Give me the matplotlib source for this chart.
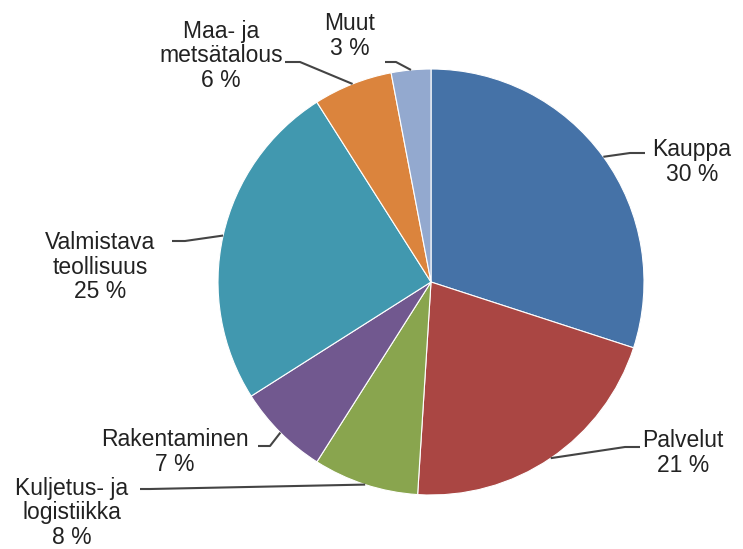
import numpy as np
import matplotlib.pyplot as plt

# Data
labels = ["Kauppa", "Palvelut", "Kuljetus- ja\nlogistiikka", "Rakentaminen",
          "Valmistava\nteollisuus", "Maa- ja\nmetsätalous", "Muut"]
shares = [30, 21, 8, 7, 25, 6, 3]
colors = ["#4572A7", "#AA4643", "#89A54E", "#71588F", "#4198AF", "#DB843D", "#93A9CF"]

W, H = 743, 549
plt.rcParams['font.family'] = ['Liberation Sans', 'DejaVu Sans']

fig = plt.figure(figsize=(W / 100, H / 100), dpi=100)
ax = fig.add_axes([0, 0, 1, 1])

cx, cy, r = 431, H - 282, 213
wedges, _ = ax.pie(shares, colors=colors, startangle=90, counterclock=False,
                   center=(cx, cy), radius=r, frame=True,
                   wedgeprops=dict(edgecolor='white', linewidth=0.8))
ax.set_xlim(0, W)
ax.set_ylim(0, H)
ax.set_aspect('equal')
ax.axis('off')

# label layout in pixel coords (x, y from top): elbow, line end, text centre
layout = [
    ((630, 153), (645, 153), (692, 162)),
    ((625, 447), (640, 447), (683, 453)),
    ((150, 489), (140, 489), (72, 513)),
    ((270, 446), (258, 446), (175, 452)),
    ((185, 241), (172, 241), (100, 267)),
    ((300, 62), (285, 62), (221, 56)),
    ((396, 62), (385, 62), (350, 36)),
]

for w, lab, val, (elbow, end, txt) in zip(wedges, labels, shares, layout):
    ang = np.deg2rad((w.theta1 + w.theta2) / 2)
    sx, sy = cx + r * np.cos(ang), cy + r * np.sin(ang)
    xs = [sx, elbow[0], end[0]]
    ys = [sy, H - elbow[1], H - end[1]]
    ax.plot(xs, ys, color='#444444', lw=1.5, solid_capstyle='butt')
    ax.text(txt[0], H - txt[1], f"{lab}\n{val} %", ha='center', va='center',
            fontsize=16.5, color='#222222', linespacing=1.1)

fig.savefig("out.png", dpi=100)
